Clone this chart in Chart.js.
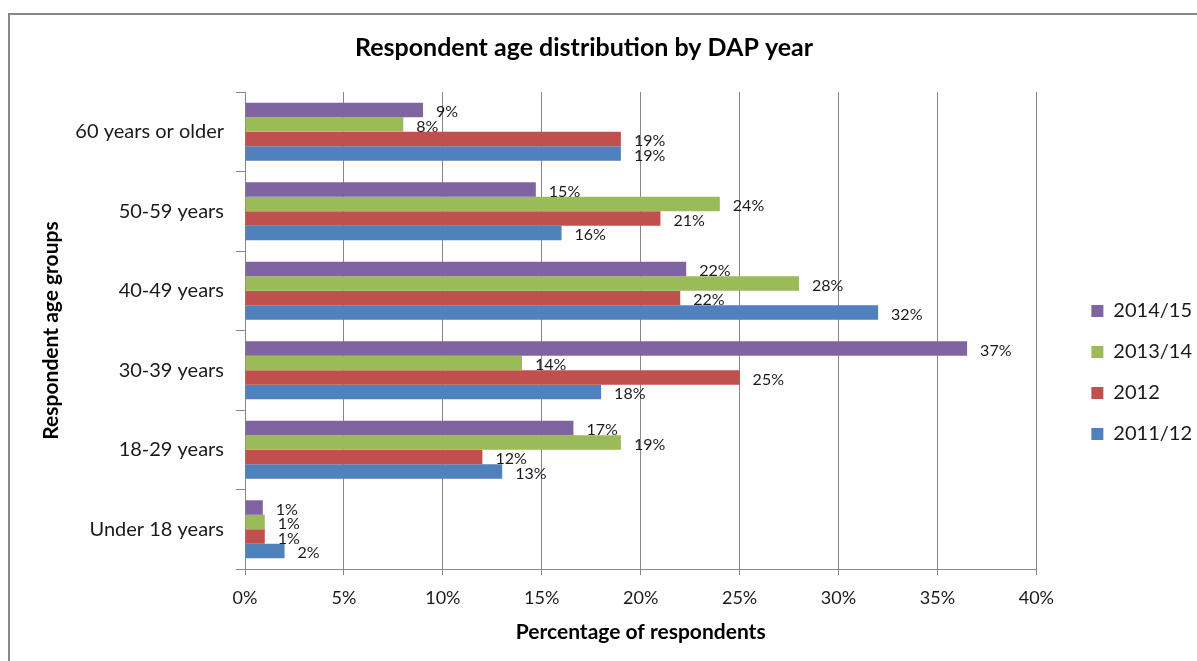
<!DOCTYPE html>
<html>
<head>
<meta charset="utf-8">
<title>Respondent age distribution by DAP year</title>
<script src="https://cdn.jsdelivr.net/npm/chart.js@4.4.1/dist/chart.umd.min.js"></script>
<style>
  html, body { margin: 0; padding: 0; background: #fff; }
  #wrap { position: relative; width: 1197px; height: 661px; overflow: hidden; }
  #frame {
    position: absolute; left: 8px; top: 13px; width: 1400px; height: 900px;
    border-left: 2px solid #878787; border-top: 2px solid #878787;
    pointer-events: none;
  }
</style>
</head>
<body>
<div id="wrap">
  <canvas id="ageChart" width="1197" height="661"></canvas>
  <div id="frame"></div>
</div>
<script>
// age groups, top to bottom
const ageGroups = ['60 years or older', '50-59 years', '40-49 years', '30-39 years', '18-29 years', 'Under 18 years'];

// percentage of respondents per DAP year
const year2014_15 = [9, 14.7, 22.3, 36.5, 16.6, 0.9];
const year2013_14 = [8, 24, 28, 14, 19, 1];
const year2012 = [19, 21, 22, 25, 12, 1];
const year2011_12 = [19, 16, 32, 18, 13, 2];

const seriesNames = ['2014/15', '2013/14', '2012', '2011/12'];
const seriesColours = ['#8064A2', '#9BBB59', '#C0504D', '#4F81BD'];

// x axis ticks 0%..40%
const xTickValues = [0, 5, 10, 15, 20, 25, 30, 35, 40];

const FONT = 'Lato, "Open Sans", sans-serif';
const GRID = '#878787';

// value labels at the end of each bar
const barLabels = {
    id: 'barLabels',
    afterDatasetsDraw(chart) {
        const ctx = chart.ctx;
        ctx.save();
        ctx.font = '16px ' + FONT;
        ctx.fillStyle = '#1a1a1a';
        ctx.textAlign = 'left';
        ctx.textBaseline = 'middle';
        chart.data.datasets.forEach((ds, i) => {
            chart.getDatasetMeta(i).data.forEach((bar, j) => {
                ctx.fillText(Math.round(ds.data[j]) + '%', bar.x + 13, bar.y + 2);
            });
        });
        ctx.restore();
    }
};

// nudge the legend column the way Excel places it
const legendNudge = {
    id: 'legendNudge',
    afterLayout(chart) {
        const lg = chart.legend;
        lg.left += 34;
        lg.right += 34;
        lg.top += 42;
        lg.bottom += 42;
    }
};

const allSeries = [year2014_15, year2013_14, year2012, year2011_12];

new Chart(document.getElementById('ageChart').getContext('2d'), {
    type: 'bar',
    data: {
        labels: ageGroups,
        datasets: allSeries.map((vals, i) => ({
            label: seriesNames[i],
            data: vals,
            backgroundColor: seriesColours[i],
            borderWidth: 0,
            categoryPercentage: 0.73,
            barPercentage: 1
        }))
    },
    options: {
        indexAxis: 'y',
        responsive: false,
        animation: false,
        layout: { padding: { left: 0, right: 29, top: 0, bottom: 0 } },
        plugins: {
            title: {
                display: true,
                text: 'Respondent age distribution by DAP year',
                color: '#000',
                font: { family: FONT, size: 25, weight: 'bold' },
                padding: { top: 33, bottom: 29 }
            },
            legend: {
                position: 'right',
                align: 'center',
                labels: {
                    boxWidth: 12,
                    boxHeight: 12,
                    padding: 21,
                    color: '#1a1a1a',
                    font: { family: FONT, size: 20 }
                }
            },
            tooltip: { enabled: false }
        },
        scales: {
            x: {
                min: 0,
                max: 40,
                afterBuildTicks(scale) {
                    scale.ticks = xTickValues.map(v => ({ value: v }));
                },
                afterFit(scale) { scale.height = 92; },
                ticks: {
                    callback: v => v + '%',
                    color: '#1a1a1a',
                    padding: 12,
                    font: { family: FONT, size: 18 }
                },
                grid: { color: GRID, tickLength: 6 },
                border: { color: GRID },
                title: {
                    display: true,
                    text: 'Percentage of respondents',
                    color: '#000',
                    font: { family: FONT, size: 21, weight: 'bold' },
                    padding: { top: 4, bottom: 16 }
                }
            },
            y: {
                afterFit(scale) { scale.width = 245; },
                ticks: {
                    color: '#1a1a1a',
                    padding: 12,
                    font: { family: FONT, size: 20 }
                },
                grid: { color: GRID, drawOnChartArea: false, tickLength: 9, offset: true },
                border: { color: GRID },
                title: {
                    display: true,
                    text: 'Respondent age groups',
                    color: '#000',
                    font: { family: FONT, size: 21, weight: 'bold' },
                    padding: { top: 39, bottom: 0 }
                }
            }
        }
    },
    plugins: [barLabels, legendNudge]
});
</script>
</body>
</html>
